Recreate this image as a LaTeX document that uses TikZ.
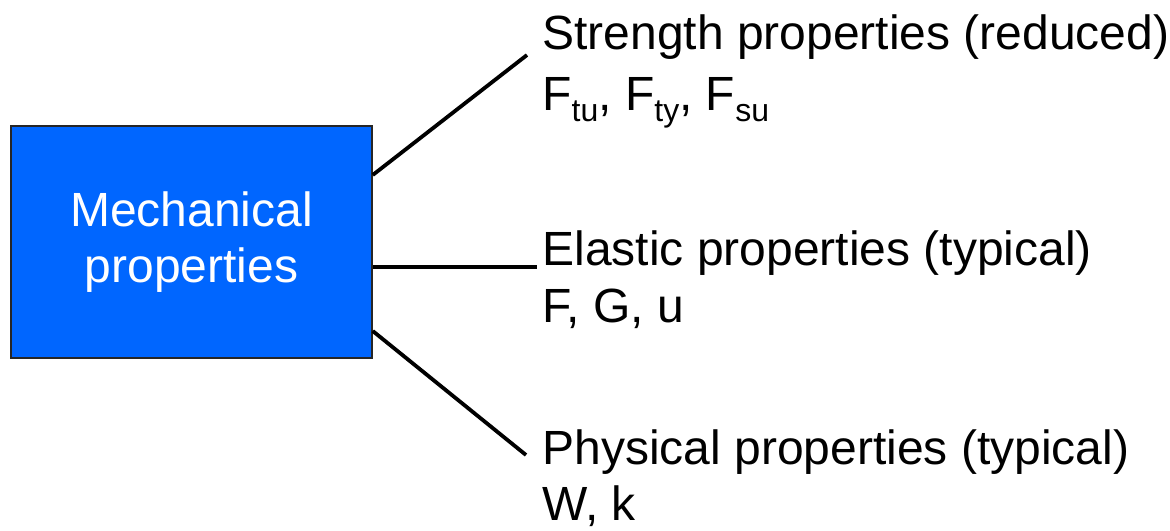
\documentclass[tikz,border=0pt]{standalone}
\usepackage{fontspec}
\setmainfont{Liberation Sans}
\usetikzlibrary{positioning}
\definecolor{boxblue}{HTML}{0066FF}
\newcommand{\lowsub}[1]{\raisebox{-5.5pt}{\fontsize{16}{16}\selectfont #1}}
\tikzset{
  topic/.style={draw=black!85,line width=0.75pt,fill=boxblue,text=white,
                align=center,minimum width=180.5pt,minimum height=116pt,
                font=\fontsize{24}{28}\selectfont},
  entry/.style={anchor=base west,inner sep=0pt,align=left,
                font=\fontsize{24}{29}\selectfont},
  link/.style={draw=black,line width=1.9pt}
}
\begin{document}
\begin{tikzpicture}[x=0.5pt,y=-0.5pt]
  \useasboundingbox (0,0) rectangle (1170,530);
  \node[topic] (mech) at (191.5,242) {Mechanical\\properties};

  \node[entry] (strength) at (542,110)
    {Strength properties (reduced)\\[1.5pt]
     F\lowsub{tu}, F\lowsub{ty}, F\lowsub{su}};
  \node[entry] (elastic) at (542,322)
    {Elastic properties (typical)\\[-0.5pt] F, G, u};
  \node[entry] (physical) at (542,520)
    {Physical properties (typical)\\[-1pt] W, k};

  \draw[link] ([yshift=33.5pt]mech.east)
    -- ([xshift=-7.5pt,yshift=27.5pt]strength.base west);
  \draw[link] ([yshift=-12.5pt]mech.east)
    -- ([xshift=-2.5pt,yshift=27.5pt]elastic.base west);
  \draw[link] ([yshift=-44.5pt]mech.east)
    -- ([xshift=-8pt,yshift=32.5pt]physical.base west);
\end{tikzpicture}
\end{document}
